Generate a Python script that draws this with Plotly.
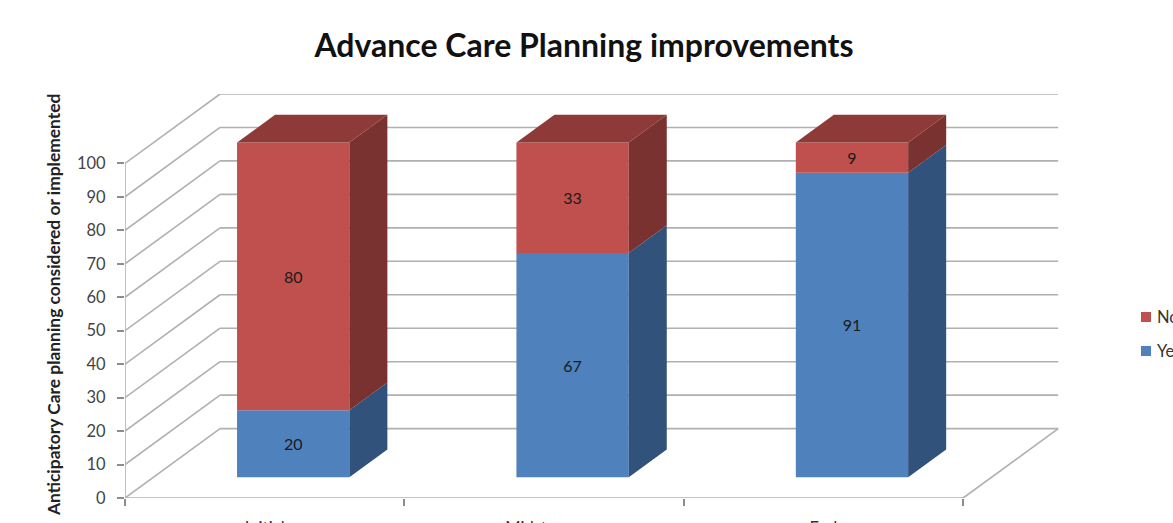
import plotly.graph_objects as go

categories = ["Initial", "Midstream", "End"]
series_yes = [20, 67, 91]
series_no = [80, 33, 9]
tick_values = list(range(0, 101, 10))

BLUE, BLUE_SIDE = "#4F81BD", "#31527A"
RED, RED_SIDE, RED_TOP = "#C0504D", "#7A3230", "#8E3A38"
GRID = "#B0B0B0"
TICK = "#8C8C8C"
FONT = "Lato"

# projection of the chart's depth onto the page, in axis units
W, H = 1173, 523
L, R_PX, T, B_PX = 125, 1059.7, 94, 498
PX_CAT = 279.3
PX_VAL = 3.346
DEPTH_X = 95 / PX_CAT
DEPTH_Y = 69.4 / PX_VAL
BAR_W = 112.3 / PX_CAT
BAR_D0, BAR_D1 = 0.3, 0.7

n = len(categories)
x_range = [0, (R_PX - L) / PX_CAT]
y_range = [0, (B_PX - T) / PX_VAL]


def proj(x, y, d):
    return x + d * DEPTH_X, y + d * DEPTH_Y


shapes = []


def seg(p0, p1, color=GRID, width=1.6):
    shapes.append(dict(type="line", xref="x", yref="y", x0=p0[0], y0=p0[1], x1=p1[0], y1=p1[1],
                       line=dict(color=color, width=width), layer="below"))


for v in tick_values:
    a = proj(0, v, 0)
    b = proj(0, v, 1)
    c = proj(n, v, 1)
    seg(a, b)
    seg(b, c)
seg(proj(0, 0, 0), proj(0, tick_values[-1], 0))
seg(proj(0, 0, 0), proj(n, 0, 0))
seg(proj(n, 0, 0), proj(n, 0, 1))

fig = go.Figure()
centers = [i + 0.5 + BAR_D0 * DEPTH_X for i in range(n)]
base_offset = BAR_D0 * DEPTH_Y


def poly(xs, ys, color):
    fig.add_trace(go.Scatter(x=xs + xs[:1], y=ys + ys[:1], mode="lines", fill="toself",
                             fillcolor=color, line=dict(width=0, color=color),
                             hoverinfo="skip", showlegend=False))


fig.add_trace(go.Bar(name="Yes", x=centers, y=series_yes, base=[base_offset] * n, width=BAR_W,
                     marker=dict(color=BLUE, line=dict(width=0)), text=series_yes,
                     textposition="inside", insidetextanchor="middle", textangle=0,
                     textfont=dict(family=FONT, size=16, color="#1A1A1A"), showlegend=False))
fig.add_trace(go.Bar(name="No", x=centers, y=series_no,
                     base=[base_offset + v for v in series_yes], width=BAR_W,
                     marker=dict(color=RED, line=dict(width=0)), text=series_no,
                     textposition="inside", insidetextanchor="middle", textangle=0,
                     textfont=dict(family=FONT, size=16, color="#1A1A1A"), showlegend=False))

dd = BAR_D1 - BAR_D0
for i in range(n):
    xr = centers[i] + BAR_W / 2
    xl = centers[i] - BAR_W / 2
    low = base_offset
    mid = low + series_yes[i]
    top = mid + series_no[i]
    dx, dy = dd * DEPTH_X, dd * DEPTH_Y
    poly([xr, xr + dx, xr + dx, xr], [low, low + dy, mid + dy, mid], BLUE_SIDE)
    poly([xr, xr + dx, xr + dx, xr], [mid, mid + dy, top + dy, top], RED_SIDE)
    poly([xl, xr, xr + dx, xl + dx], [top, top, top + dy, top + dy], RED_TOP)

annotations = [
    dict(text="<b>Anticipatory Care planning considered or implemented</b>", xref="paper", yref="paper",
         x=(53 - L) / (R_PX - L), y=(B_PX - 305) / (B_PX - T), showarrow=False, textangle=-90,
         xanchor="center", yanchor="middle",
         font=dict(family=FONT, size=17.4, color="#222222")),
]
legend_entries = [("No", RED, 317), ("Yes", BLUE, 351)]
for label, color, py in legend_entries:
    shapes.append(dict(type="rect", xref="paper", yref="paper", line=dict(width=0), fillcolor=color,
                       x0=(1140.7 - L) / (R_PX - L), x1=(1150.7 - L) / (R_PX - L),
                       y0=(B_PX - py - 5) / (B_PX - T), y1=(B_PX - py + 5) / (B_PX - T)))
    annotations.append(dict(text=label, xref="paper", yref="paper", xanchor="left", showarrow=False,
                            x=(1156 - L) / (R_PX - L), y=(B_PX - py) / (B_PX - T),
                            font=dict(family=FONT, size=16.5, color="#333333"), xshift=-1))

fig.update_layout(
    width=W, height=H, autosize=False,
    margin=dict(l=L, r=W - R_PX, t=T, b=H - B_PX, pad=0, autoexpand=False),
    paper_bgcolor="white", plot_bgcolor="rgba(0,0,0,0)",
    barmode="overlay", showlegend=False, shapes=shapes, annotations=annotations,
    title=dict(text="<b>Advance Care Planning improvements</b>", x=584 / W, xanchor="center",
               y=1 - 46 / H, yanchor="middle", font=dict(family=FONT, size=32, color="#111111")),
    xaxis=dict(range=x_range, tickmode="array", tickvals=[i + 0.5 for i in range(n)], ticktext=categories,
               ticklen=0, showgrid=False, zeroline=False, showline=False, ticklabelstandoff=18,
               tickfont=dict(family=FONT, size=16.5, color="#333333"),
               minor=dict(tickmode="array", tickvals=list(range(n + 1)), ticks="outside", ticklen=7,
                          tickcolor=TICK, tickwidth=1.5, showgrid=False)),
    yaxis=dict(range=y_range, tickmode="array", tickvals=tick_values, ticks="outside", ticklen=7,
               tickcolor=TICK, tickwidth=1.5, showgrid=False, zeroline=False, showline=False,
               ticklabelstandoff=8, tickfont=dict(family=FONT, size=16.5, color="#444444")),
)
fig.write_html("out.html", config={"displayModeBar": False},
               post_script="document.body.style.margin='0';document.body.style.overflow='hidden';")
